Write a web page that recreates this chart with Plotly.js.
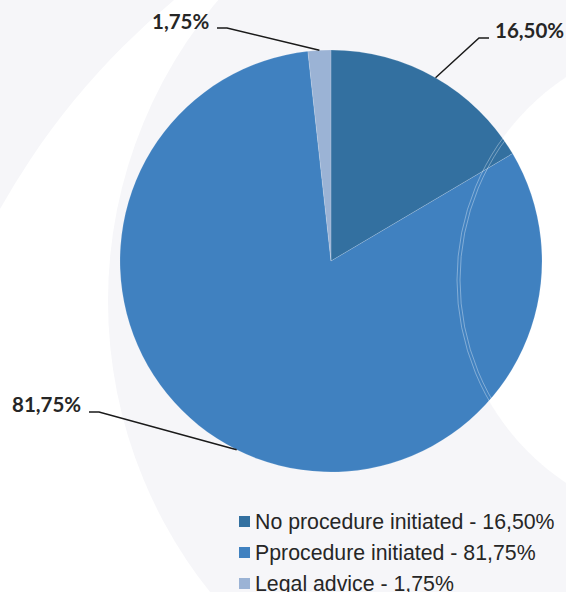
<!DOCTYPE html>
<html>
<head>
<meta charset="utf-8">
<script src="https://cdn.plot.ly/plotly-3.0.1.min.js"></script>
<style>html,body{margin:0;padding:0;background:#fff;}#chart{width:566px;height:592px;}</style>
</head>
<body>
<div id="chart"></div>
<script>
// ---- data ----
var categories = ['No procedure initiated', 'Pprocedure initiated', 'Legal advice'];
var shares = [16.50, 81.75, 1.75];
var sliceColors = ['#3370a0', '#4081c0', '#9bb3d5'];

// ---- layout helpers (pixel -> paper) ----
var W = 566, H = 592;
function px(x) { return x / W; }
function py(y) { return 1 - y / H; }
function fmt(v) { return v.toFixed(2).replace('.', ',') + '%'; }

var cx = 331, cy = 261, R = 211;

// label placement (layout), leader start computed from the data angles
var labelPos = [
  {x: 493, y: 30, side: 'left', lineY: 38},
  {x: 83, y: 404, side: 'right', lineY: 412},
  {x: 211, y: 21, side: 'right', lineY: 28}
];
var legendTop = 521.5, legendStep = 31;

var shapes = [];
function circ(x, y, r, fill, line, layer) {
  shapes.push({type: 'circle', xref: 'paper', yref: 'paper',
    x0: px(x - r), x1: px(x + r), y0: py(y + r), y1: py(y - r),
    fillcolor: fill, line: line || {width: 0}, layer: layer || 'below'});
}
// decorative background arcs
circ(646, 570, 740, '#ffffff');
circ(574, 301, 466, '#f6f6f9');
circ(700, 280, 243, '#ffffff');
// faint double overlay line across the pie
circ(700, 280, 243, 'rgba(0,0,0,0)', {color: 'rgba(255,255,255,0.35)', width: 1}, 'above');
circ(700, 280, 240, 'rgba(0,0,0,0)', {color: 'rgba(255,255,255,0.35)', width: 1}, 'above');

var annotations = [];
var total = shares.reduce(function (a, b) { return a + b; }, 0);
var cum = 0;
shares.forEach(function (v, i) {
  var mid = (cum + v / 2) / total * 2 * Math.PI;
  cum += v;
  var rx = cx + R * Math.sin(mid), ry = cy - R * Math.cos(mid);
  var L = labelPos[i];
  var sx = L.side === 'left' ? L.x - 4 : L.x + 6;
  var ex = L.side === 'left' ? sx - 10 : sx + 10;
  shapes.push({type: 'path', xref: 'paper', yref: 'paper', layer: 'above',
    path: 'M' + px(sx) + ',' + py(L.lineY) + 'L' + px(ex) + ',' + py(L.lineY) + 'L' + px(rx) + ',' + py(ry),
    line: {color: '#1a1a1a', width: 1.5}});
  annotations.push({xref: 'paper', yref: 'paper', x: px(L.x), y: py(L.y),
    xanchor: L.side, yanchor: 'middle', showarrow: false,
    text: '<b>' + fmt(v) + '</b>',
    font: {family: 'Lato, "Liberation Sans", sans-serif', size: 20.5, color: '#262626'}});
  // legend rows
  var ly = legendTop + legendStep * i;
  shapes.push({type: 'rect', xref: 'paper', yref: 'paper', layer: 'above',
    x0: px(239), x1: px(250), y0: py(ly + 5.5), y1: py(ly - 5.5),
    fillcolor: sliceColors[i], line: {width: 0}});
  annotations.push({xref: 'paper', yref: 'paper', x: px(253), y: py(ly),
    xanchor: 'left', yanchor: 'middle', showarrow: false,
    text: categories[i] + ' - ' + fmt(v),
    font: {family: '"Liberation Sans", Arial, sans-serif', size: 21.3, color: '#262626'}});
});

var trace = {
  type: 'pie',
  labels: categories,
  values: shares,
  sort: false,
  direction: 'clockwise',
  rotation: 0,
  textinfo: 'none',
  hoverinfo: 'label+percent',
  marker: {colors: sliceColors, line: {color: 'rgba(255,255,255,0.3)', width: 0.5}},
  domain: {x: [px(cx - R), px(cx + R)], y: [py(cy + R), py(cy - R)]},
  showlegend: false
};

var layout = {
  width: W, height: H,
  margin: {l: 0, r: 0, t: 0, b: 0},
  paper_bgcolor: '#f6f6f9',
  showlegend: false,
  shapes: shapes,
  annotations: annotations
};

Plotly.newPlot('chart', [trace], layout, {displayModeBar: false, staticPlot: true});
</script>
</body>
</html>
